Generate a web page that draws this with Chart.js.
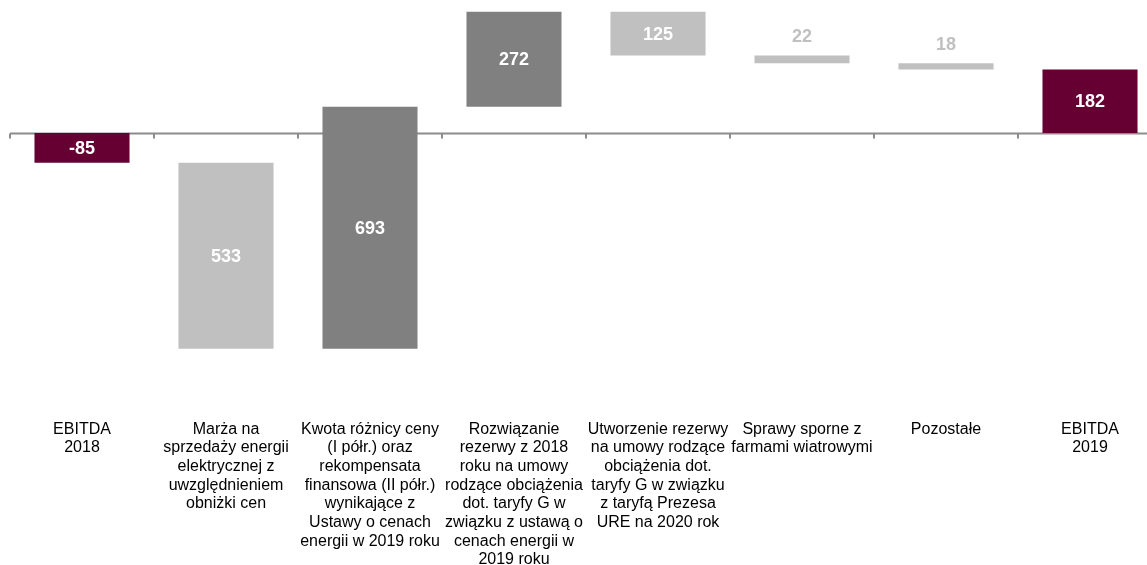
<!DOCTYPE html>
<html>
<head>
<meta charset="utf-8">
<script src="https://cdn.jsdelivr.net/npm/chart.js@4.4.1/dist/chart.umd.min.js"></script>
<style>
    html, body { margin: 0; padding: 0; background: #ffffff; overflow: hidden; }
    #wrap { width: 1162px; height: 565px; }
</style>
</head>
<body>
<div id="wrap"><canvas id="ebitda" width="1162" height="565"></canvas></div>
<script>
// EBITDA bridge 2018 -> 2019, mln zł
var categories = [
    ["EBITDA", "2018"],
    ["Marża na", "sprzedaży energii", "elektrycznej z", "uwzględnieniem", "obniżki cen"],
    ["Kwota różnicy ceny", "(I półr.) oraz", "rekompensata", "finansowa (II półr.)", "wynikające z", "Ustawy o cenach", "energii w 2019 roku"],
    ["Rozwiązanie", "rezerwy z 2018", "roku na umowy", "rodzące obciążenia", "dot. taryfy G w", "związku z ustawą o", "cenach energii w", "2019 roku"],
    ["Utworzenie rezerwy", "na umowy rodzące", "obciążenia dot.", "taryfy G w związku", "z taryfą Prezesa", "URE na 2020 rok"],
    ["Sprawy sporne z", "farmami wiatrowymi"],
    ["Pozostałe"],
    ["EBITDA", "2019"]
];
var values = [-85, -533, 693, 272, -125, -22, -18, 182];
var isTotal = [true, false, false, false, false, false, false, true];

var yMin = -808;
var yMax = 381;

var FONT = "'Liberation Sans', Arial, sans-serif";
var COLOR_TOTAL = "#660033";
var COLOR_UP = "#808080";
var COLOR_DOWN = "#c0c0c0";

(function(){

    function _buildRanges(){
        let ranges = [];
        let running = 0;
        for(let i = 0; i < values.length; i++){
            if(isTotal[i]){
                ranges.push([0, values[i]]);
                running = values[i];
            } else {
                ranges.push([running, running + values[i]]);
                running += values[i];
            }
        }
        return ranges;
    }

    function _barColors(){
        return values.map(function(v, i){
            if(isTotal[i]) return COLOR_TOTAL;
            return v >= 0 ? COLOR_UP : COLOR_DOWN;
        });
    }

    // zero line with small ticks at the category boundaries
    var _zeroLine = {
        id: 'zeroLine',
        beforeDatasetsDraw: function(chart){
            let ctx = chart.ctx;
            let x = chart.scales.x;
            let y0 = Math.round(chart.scales.y.getPixelForValue(0)) + 0.5;
            let step = x.getPixelForValue(1) - x.getPixelForValue(0);
            ctx.save();
            ctx.strokeStyle = "#8c8c8c";
            ctx.lineWidth = 2;
            ctx.beginPath();
            ctx.moveTo(chart.chartArea.left, y0);
            ctx.lineTo(chart.chartArea.right, y0);
            for(let i = 0; i <= values.length; i++){
                let px = Math.round(x.getPixelForValue(0) - step / 2 + i * step);
                ctx.moveTo(px, y0);
                ctx.lineTo(px, y0 + 5);
            }
            ctx.stroke();
            ctx.restore();
        }
    };

    // value labels: inside the bar, or above it when the bar is too thin
    var _valueLabels = {
        id: 'valueLabels',
        afterDatasetsDraw: function(chart){
            let ctx = chart.ctx;
            let meta = chart.getDatasetMeta(0);
            let colors = _barColors();
            ctx.save();
            ctx.font = "bold 18px " + FONT;
            ctx.textAlign = "center";
            meta.data.forEach(function(bar, i){
                let text = isTotal[i] ? String(values[i]) : String(Math.abs(values[i]));
                let top = Math.min(bar.y, bar.base);
                let bottom = Math.max(bar.y, bar.base);
                if(bottom - top < 25){
                    ctx.fillStyle = colors[i];
                    ctx.textBaseline = "bottom";
                    ctx.fillText(text, bar.x, top - 9);
                } else {
                    ctx.fillStyle = "#ffffff";
                    ctx.textBaseline = "middle";
                    ctx.fillText(text, bar.x, (top + bottom) / 2 + 1);
                }
            });
            ctx.restore();
        }
    };

    function _drawChart(){
        new Chart(document.getElementById('ebitda').getContext('2d'), {
            type: 'bar',
            data: {
                labels: categories,
                datasets: [{
                    data: _buildRanges(),
                    backgroundColor: _barColors(),
                    borderWidth: 0,
                    barPercentage: 0.66,
                    categoryPercentage: 1
                }]
            },
            options: {
                responsive: false,
                animation: false,
                layout: { padding: { left: 10, right: 0, top: 0, bottom: 0 } },
                plugins: {
                    legend: { display: false },
                    tooltip: { enabled: false }
                },
                scales: {
                    x: {
                        grid: { display: false, drawTicks: false },
                        border: { display: false },
                        ticks: {
                            color: "#000000",
                            font: { family: FONT, size: 16, lineHeight: 1.167 },
                            padding: 5,
                            maxRotation: 0,
                            autoSkip: false
                        },
                        afterFit: function(scale){ scale.height = 150; }
                    },
                    y: { display: false, min: yMin, max: yMax }
                }
            },
            plugins: [_zeroLine, _valueLabels]
        });
    }

    window.onload = function(){
        _drawChart();
    };

})();
</script>
</body>
</html>
